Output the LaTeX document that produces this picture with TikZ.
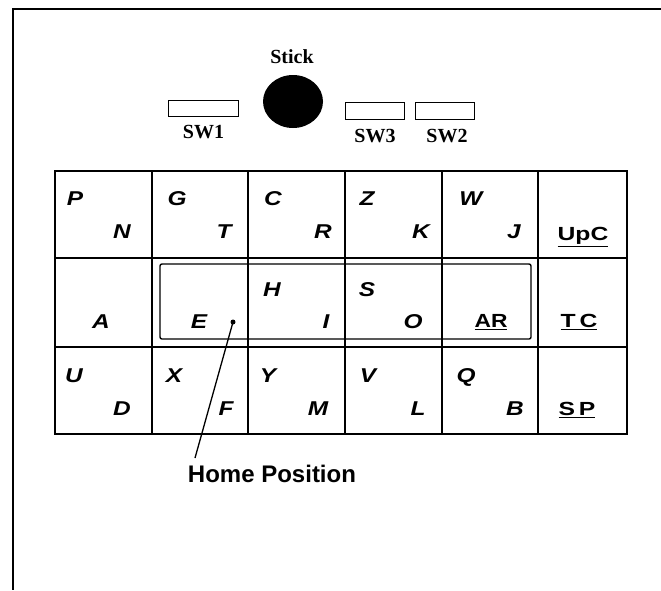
\documentclass[tikz,border=0pt]{standalone}
\usepackage{fontspec}
\usepackage{graphicx}
\setmainfont{Liberation Sans}
\newfontfamily\serifface{Liberation Serif}
\newcommand\klet[1]{\scalebox{1.22}[1]{#1}}
\newcommand\ulword[2]{\vtop{\hbox{\scalebox{#1}[1]{#2}}\kern1.6pt\hrule height 1.4pt}}
\tikzset{
  frameline/.style={line width=2pt},
  gridline/.style={line width=1.4pt},
  homebox/.style={line width=1.4pt, rounded corners=2pt},
  swbox/.style={draw, line width=1.8pt, fill=white},
  serlbl/.style={anchor=base, inner sep=0pt, font=\serifface\bfseries\fontsize{20}{20}\selectfont},
  keylet/.style={anchor=base, inner sep=0pt, font=\fontsize{20}{20}\selectfont\bfseries\itshape},
  keyword/.style={anchor=base, inner sep=0pt, font=\fontsize{19}{19}\selectfont\bfseries},
  homelbl/.style={anchor=base, inner sep=0pt, font=\fontsize{24}{24}\selectfont\bfseries},
  dotn/.style={circle, fill, inner sep=0pt, minimum size=5pt},
  connector/.style={line width=1.3pt}
}
\begin{document}
\begin{tikzpicture}[x=1pt,y=-1pt]
\useasboundingbox (0,0) rectangle (661,590);
% outer frame
\draw[frameline] (661,9) -- (13,9) -- (13,590);
% stick and switches
\node[serlbl] (sticklbl) at (292,63) {Stick};
\fill (293,101.5) ellipse [x radius=30, y radius=26.5];
\node[swbox, minimum width=70pt, minimum height=16pt] (sw1) at (203.5,108.5) {};
\node[swbox, minimum width=59pt, minimum height=17pt] (sw3) at (375,111) {};
\node[swbox, minimum width=59pt, minimum height=17pt] (sw2) at (445,111) {};
\node[serlbl] (sw1lbl) at (203.5,138) {SW1};
\node[serlbl] (sw3lbl) at (375,142) {SW3};
\node[serlbl] (sw2lbl) at (447,142) {SW2};
% key grid
\foreach \xa/\xb in {55/152,152/248,248/345,345/442,442/538,538/627}
  \foreach \ya/\yb in {171/258,258/347,347/434}
    \draw[gridline] (\xa,\ya) rectangle (\xb,\yb);
% home box
\draw[homebox] (160,264) rectangle (531,339);
% row 1
\node[keylet] (kP) at (75,205) {\klet{P}};
\node[keylet] (kN) at (122,238) {\klet{N}};
\node[keylet] (kG) at (177,205) {\klet{G}};
\node[keylet] (kT) at (224,238) {\klet{T}};
\node[keylet] (kC) at (273,205) {\klet{C}};
\node[keylet] (kR) at (323,238) {\klet{R}};
\node[keylet] (kZ) at (367,205) {\klet{Z}};
\node[keylet] (kK) at (421,238) {\klet{K}};
\node[keylet] (kW) at (471,205) {\klet{W}};
\node[keylet] (kJ) at (514,238) {\klet{J}};
\node[keyword] (kUpC) at (583,240) {\ulword{1.3}{UpC}};
% row 2
\node[keylet] (kA) at (101,328) {\klet{A}};
\node[keylet] (kE) at (199,328) {\klet{E}};
\node[keylet] (kH) at (272,296) {\klet{H}};
\node[keylet] (kI) at (326,328) {\klet{I}};
\node[keylet] (kS) at (367,296) {\klet{S}};
\node[keylet] (kO) at (413,328) {\klet{O}};
\node[keyword] (kAR) at (491,327) {\ulword{1.2}{AR}};
\node[keyword] (kTC) at (579,327) {\ulword{1.3}{T\kern3pt C}};
% row 3
\node[keylet] (kU) at (74,382) {\klet{U}};
\node[keylet] (kD) at (122,415) {\klet{D}};
\node[keylet] (kX) at (174,382) {\klet{X}};
\node[keylet] (kF) at (226,415) {\klet{F}};
\node[keylet] (kY) at (268,382) {\klet{Y}};
\node[keylet] (kM) at (318,415) {\klet{M}};
\node[keylet] (kV) at (368,382) {\klet{V}};
\node[keylet] (kL) at (418,415) {\klet{L}};
\node[keylet] (kQ) at (466,382) {\klet{Q}};
\node[keylet] (kB) at (515,415) {\klet{B}};
\node[keyword] (kSP) at (577,415) {\ulword{1.3}{S\kern3pt P}};
% home position pointer
\node[dotn] (dot) at (233,322) {};
\coordinate (lineend) at (195,458);
\draw[connector] (dot.center) -- (lineend);
\node[homelbl] (home) at (272,482) {Home Position};
\end{tikzpicture}
\end{document}
